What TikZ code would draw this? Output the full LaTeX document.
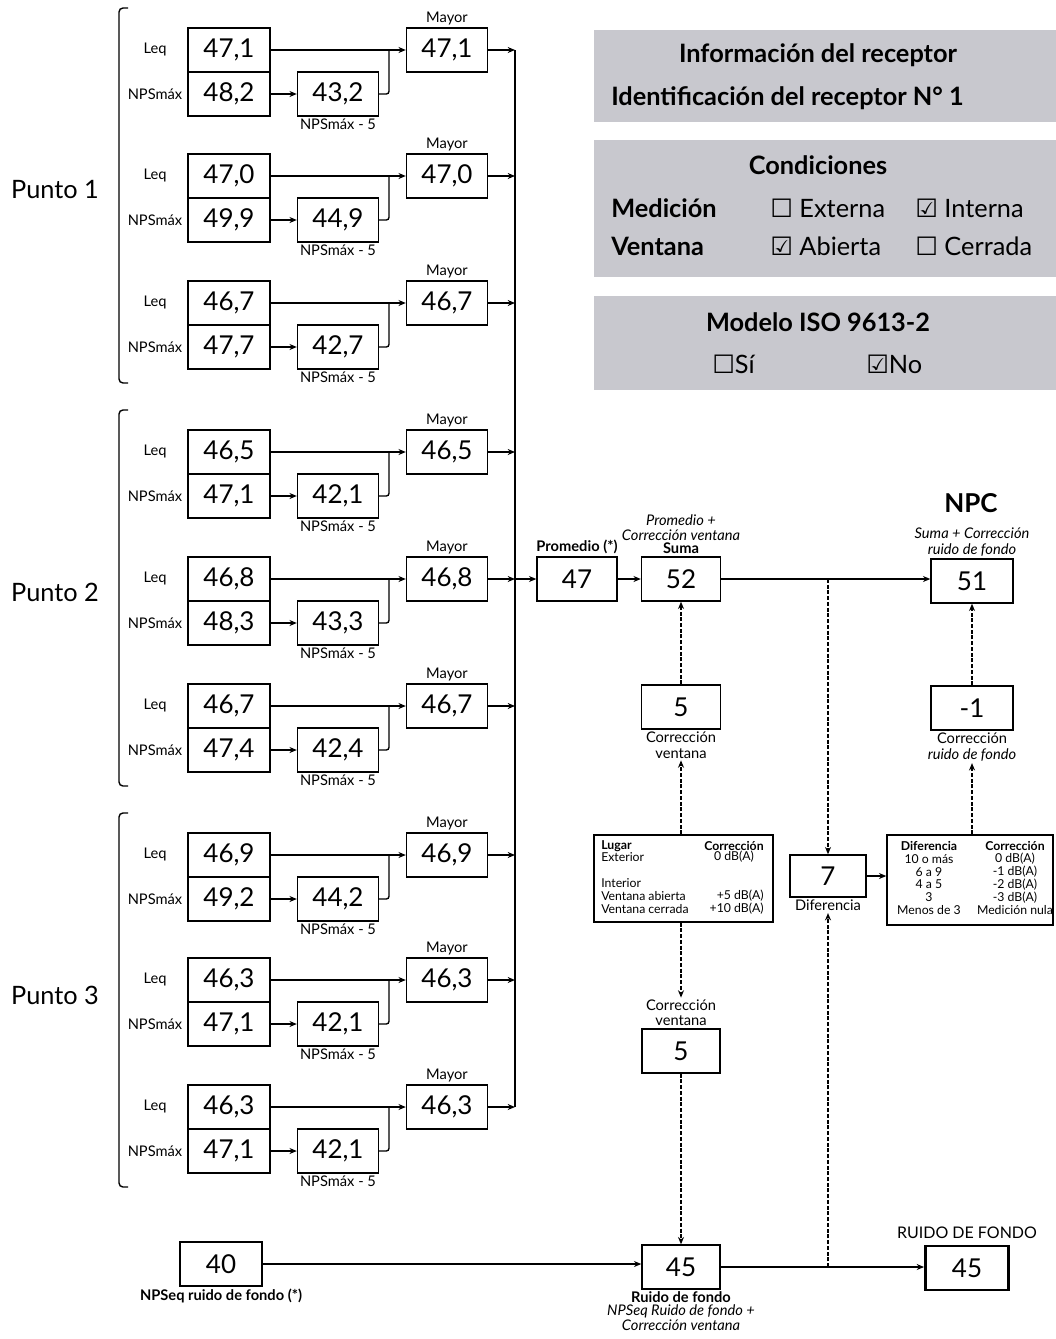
\documentclass[tikz,border=0pt]{standalone}
\usepackage{fontspec}
\setmainfont{Lato}
\newfontfamily\symf{DejaVu Sans}
\usetikzlibrary{arrows.meta,positioning,calc}
\definecolor{panelgray}{RGB}{200,200,206}
\newcommand\grp[6]{%
  \node[vbox] (#1l) at (229,#2+22) {#3};
  \node[vbox] (#1n) at (229,#2+66) {#4};
  \node[vbox,minimum width=60.75pt] (#1m) at (338,#2+66) {#5};
  \node[vbox,minimum width=60.75pt] (#1y) at (447,#2+22) {#6};
  \node[lab] (#1a) at (155,#2+21) {Leq};
  \node[lab] (#1b) at (155,#2+66) {NPSmáx};
  \node[lab,anchor=south] (#1c) at (#1y.north) {Mayor};
  \node[lab,anchor=north] (#1d) at (#1m.south) {NPSmáx - 5};
  \coordinate (#1j) at (389,#2+22);
  \draw[arr] (#1l) -- (#1y);
  \draw[arr] (#1n) -- (#1m);
  \draw[conn,rounded corners=2pt] (#1m.east) -| (#1j);
  \draw[arr] (#1y.east) -- (#1y.east -| bus);
}
\begin{document}
\begin{tikzpicture}[x=0.75pt,y=-0.75pt,
  conn/.style={line width=1.05pt},
  arr/.style={conn,-{Stealth[length=5.5pt,width=4.5pt]}},
  darr/.style={arr,dash pattern=on 3pt off 1.3pt},
  vbox/.style={draw,line width=1.05pt,minimum width=61.5pt,minimum height=33pt,inner sep=0pt,font=\fontsize{19.5pt}{19.5pt}\selectfont},
  lab/.style={inner sep=1.5pt,font=\fontsize{11pt}{11.5pt}\selectfont,align=center},
  blab/.style={lab,font=\fontsize{11pt}{11.5pt}\selectfont\bfseries},
  ilab/.style={lab,font=\fontsize{11pt}{11.5pt}\selectfont\itshape},
  tlab/.style={inner sep=0pt,font=\fontsize{9.2pt}{10pt}\selectfont},
  tblab/.style={tlab,font=\fontsize{9.2pt}{10pt}\selectfont\bfseries},
  ptxt/.style={inner sep=0pt,font=\fontsize{19pt}{21pt}\selectfont},
  pbold/.style={inner sep=0pt,font=\fontsize{19pt}{21pt}\selectfont\bfseries},
  punto/.style={inner sep=0pt,font=\fontsize{19pt}{21pt}\selectfont},
  tbox/.style={draw,line width=1.05pt,inner sep=0pt},
]
\useasboundingbox (0,0) rectangle (1056,1339);
\coordinate (bus) at (515,0);

% ---------- gray panels ----------
\fill[panelgray] (594,30) rectangle (1056,122);
\fill[panelgray] (594,140) rectangle (1056,277);
\fill[panelgray] (594,296) rectangle (1056,390);
\node[pbold] (p1a) at (818,55) {Información del receptor};
\node[pbold,anchor=west] (p1b) at (611,98) {Identificación del receptor N° 1};
\node[pbold] (p2a) at (818,165) {Condiciones};
\node[pbold,anchor=west] (p2b) at (611,208) {Medición};
\node[ptxt,anchor=west] (p2c) at (770,208) {{\symf ☐} Externa};
\node[ptxt,anchor=west] (p2d) at (915,208) {{\symf ☑} Interna};
\node[pbold,anchor=west] (p2e) at (611,246) {Ventana};
\node[ptxt,anchor=west] (p2f) at (770,246) {{\symf ☑} Abierta};
\node[ptxt,anchor=west] (p2g) at (915,246) {{\symf ☐} Cerrada};
\node[pbold] (p3a) at (818,322) {Modelo ISO 9613-2};
\node[ptxt,anchor=west] (p3b) at (712,364) {{\symf ☐}Sí};
\node[ptxt,anchor=west] (p3c) at (866,364) {{\symf ☑}No};

% ---------- brackets and punto labels ----------
\draw[conn,rounded corners=3pt] (128,8) -- (119,8) -- (119,383) -- (128,383);
\draw[conn,rounded corners=3pt] (128,410) -- (119,410) -- (119,786) -- (128,786);
\draw[conn,rounded corners=3pt] (128,813) -- (119,813) -- (119,1187) -- (128,1187);
\node[punto] (pt1) at (55,190) {Punto 1};
\node[punto] (pt2) at (55,592) {Punto 2};
\node[punto] (pt3) at (55,995) {Punto 3};

% ---------- bus ----------
\draw[conn] (515,50) -- (515,1107);

% ---------- groups ----------
\grp{ga}{28}{47,1}{48,2}{43,2}{47,1}
\grp{gb}{154}{47,0}{49,9}{44,9}{47,0}
\grp{gc}{281}{46,7}{47,7}{42,7}{46,7}
\grp{gd}{430}{46,5}{47,1}{42,1}{46,5}
\grp{ge}{557}{46,8}{48,3}{43,3}{46,8}
\grp{gf}{684}{46,7}{47,4}{42,4}{46,7}
\grp{gg}{833}{46,9}{49,2}{44,2}{46,9}
\grp{gh}{958}{46,3}{47,1}{42,1}{46,3}
\grp{gi}{1085}{46,3}{47,1}{42,1}{46,3}

% ---------- main flow ----------
\node[vbox,minimum width=60pt] (prom) at (577,579) {47};
\node[blab,anchor=south] (promlab) at (prom.north) {Promedio (*)};
\node[vbox,minimum width=59.25pt] (suma) at (681,579) {52};
\node[blab,anchor=south] (sumalab) at (suma.north) {Suma};
\node[ilab,anchor=south,inner sep=0pt] (sumalab2) at (sumalab.north) {Promedio +\\Corrección ventana};
\node[vbox] (npc) at (972,581) {51};
\node[ilab,anchor=south] (npclab) at (npc.north) {Suma + Corrección\\ruido de fondo};
\node[inner sep=0pt,font=\fontsize{19.5pt}{21pt}\selectfont\bfseries] (npct) at (971,503) {NPC};

\draw[arr] (gey.east -| bus) -- (prom);
\draw[arr] (prom) -- (suma);
\draw[arr] (suma.east) -- (suma.east -| npc.west);

\node[vbox,minimum width=59.25pt] (cv1) at (681,707) {5};
\node[lab,anchor=north] (cv1lab) at (cv1.south) {Corrección\\ventana};
\draw[darr] (cv1) -- (suma);

\node[vbox] (m1) at (972,708) {-1};
\node[lab,anchor=north] (m1lab) at (m1.south) {Corrección\\\textit{ruido de fondo}};
\draw[darr] (m1) -- (npc);

% Lugar table
\node[tbox,minimum width=134.25pt,minimum height=65.25pt] (tab) at (683.5,878.5) {};
\node[tblab,anchor=west] (t1) at (601,846) {Lugar};
\node[tlab,anchor=west] (t2) at (601,857) {Exterior};
\node[tlab,anchor=west] (t3) at (601,883) {Interior};
\node[tlab,anchor=west] (t4) at (601,896) {Ventana abierta};
\node[tlab,anchor=west] (t5) at (601,909) {Ventana cerrada};
\node[tblab] (t6) at (734,846) {Corrección};
\node[tlab] (t7) at (734,857) {0 dB(A)};
\node[tlab,anchor=east] (t8) at (764,896) {+5 dB(A)};
\node[tlab,anchor=east] (t9) at (764,909) {+10 dB(A)};
\draw[darr] (tab.north -| cv1) -- (cv1lab.south);

% lower correction
\node[vbox,minimum width=58.5pt] (cv2) at (681,1051) {5};
\node[lab,anchor=south] (cv2lab) at (cv2.north) {Corrección\\ventana};
\draw[darr] (tab.south -| cv1) -- (cv2lab.north);

% background noise
\node[vbox] (n40) at (221,1264) {40};
\node[blab,anchor=north] (n40lab) at (n40.south) {NPSeq ruido de fondo (*)};
\node[vbox,minimum width=58.5pt] (rf) at (681,1267) {45};
\node[blab,anchor=north,inner sep=1pt] (rflab) at (rf.south) {Ruido de fondo};
\node[ilab,anchor=north,inner sep=0pt] (rflab2) at (rflab.south) {NPSeq Ruido de fondo +\\Corrección ventana};
\draw[darr] (cv2) -- (rf);
\draw[arr] (n40.east) -- (n40.east -| rf.west);
\node[vbox,minimum width=62.25pt,line width=2.2pt] (rdf) at (967,1268) {45};
\node[lab,anchor=south,inner sep=4pt,font=\fontsize{12pt}{13pt}\selectfont] (rdflab) at (rdf.north) {RUIDO DE FONDO};
\draw[arr] (rf.east) -- (rf.east -| rdf.west);

% difference
\node[vbox,minimum width=57pt,minimum height=31.5pt] (d7) at (828,876) {7};
\node[lab,anchor=north] (d7lab) at (d7.south) {Diferencia};
\coordinate (dtop) at (828,579);
\coordinate (dbot) at (828,1267);
\draw[darr] (dtop) -- (d7.north);
\draw[darr] (dbot) -- (d7lab.south);

\node[tbox,minimum width=124.5pt,minimum height=67.5pt] (dtab) at (970,880) {};
\foreach \i/\a/\b in {0/Diferencia/Corrección,1/10 o más/0 dB(A),2/6 a 9/-1 dB(A),3/4 a 5/-2 dB(A),4/3/-3 dB(A),5/Menos de 3/Medición nula}{
  \ifnum\i=0
    \node[tblab] (dl\i) at (929,846+12.8*\i) {\a};
    \node[tblab] (dr\i) at (1015,846+12.8*\i) {\b};
  \else
    \node[tlab] (dl\i) at (929,846+12.8*\i) {\a};
    \node[tlab] (dr\i) at (1015,846+12.8*\i) {\b};
  \fi
}
\draw[arr] (d7.east) -- (d7.east -| dtab.west);
\draw[darr] (dtab.north -| m1) -- (m1lab.south);
\end{tikzpicture}
\end{document}
